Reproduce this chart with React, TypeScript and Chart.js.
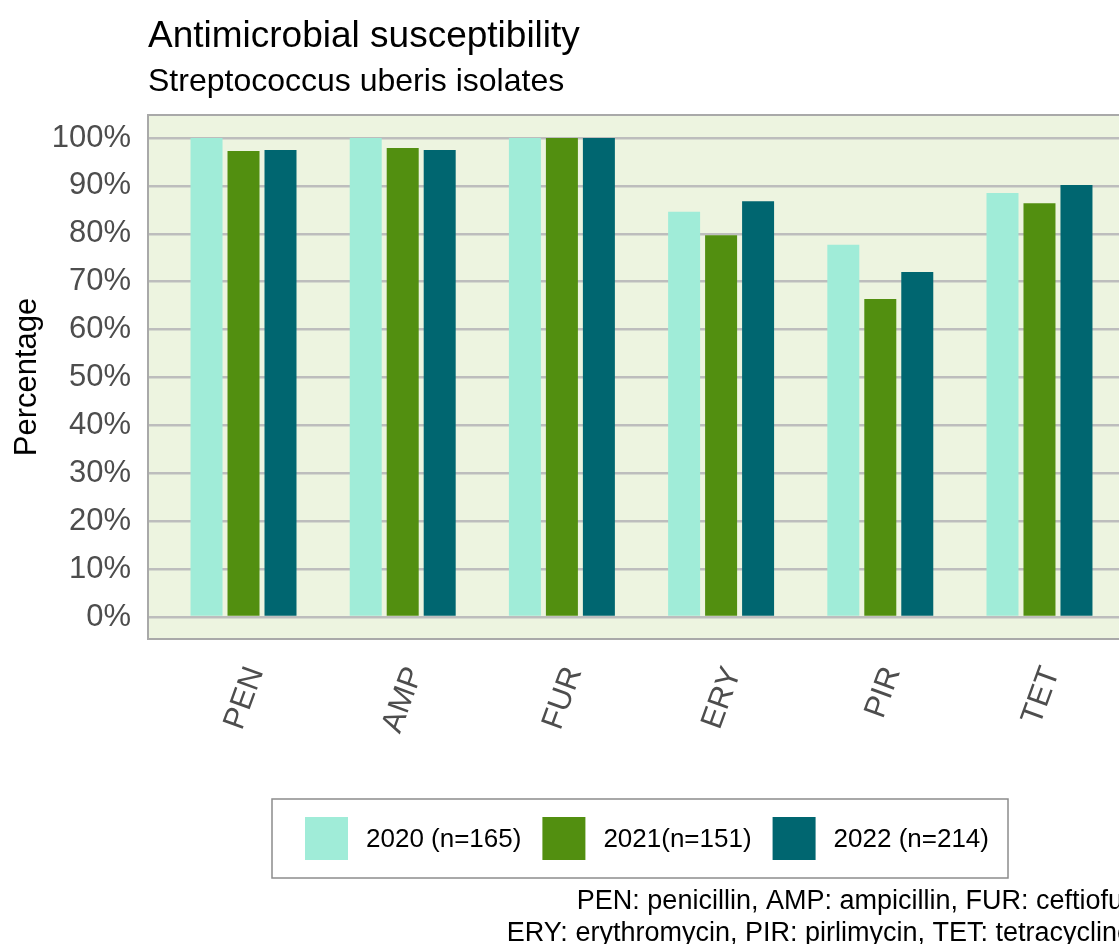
import React, { useEffect, useRef } from 'react';
import { Chart, registerables } from 'chart.js';

Chart.register(...registerables);

const categories = ['PEN', 'AMP', 'FUR', 'ERY', 'PIR', 'TET'];
const seriesLabels = ['2020 (n=165)', '2021(n=151)', '2022 (n=214)'];
const values2020 = [100, 100, 100, 84.6, 77.7, 88.5];
const values2021 = [97.3, 97.9, 100, 79.7, 66.4, 86.4];
const values2022 = [97.5, 97.5, 100, 86.8, 72.0, 90.2];
const seriesColors = ['#a0ecd8', '#528f10', '#006670'];
const yTickValues = [0, 10, 20, 30, 40, 50, 60, 70, 80, 90, 100];
const titleText = 'Antimicrobial susceptibility';
const subtitleText = 'Streptococcus uberis isolates';
const yAxisTitle = 'Percentage';
const captionLines = [
  'PEN: penicillin, AMP: ampicillin, FUR: ceftiofur',
  'ERY: erythromycin, PIR: pirlimycin, TET: tetracycline',
];

const FONT = "'Liberation Sans', Arial, Helvetica, sans-serif";
const CANVAS_W = 1150;
const CANVAS_H = 944;

const decorPlugin = {
  id: 'decor',
  beforeDraw(chart: any) {
    const { ctx, chartArea: a } = chart;
    ctx.save();
    ctx.fillStyle = '#ffffff';
    ctx.fillRect(0, 0, chart.width, chart.height);
    ctx.fillStyle = '#edf4e0';
    ctx.fillRect(a.left, a.top, a.right - a.left, a.bottom - a.top);
    ctx.restore();
  },
  afterDraw(chart: any) {
    const { ctx, chartArea: a } = chart;
    ctx.save();
    // panel border
    ctx.strokeStyle = '#a9a9a9';
    ctx.lineWidth = 2;
    ctx.strokeRect(a.left, a.top, a.right - a.left, a.bottom - a.top);

    // title & subtitle
    ctx.fillStyle = '#000000';
    ctx.textAlign = 'left';
    ctx.textBaseline = 'alphabetic';
    ctx.font = `37px ${FONT}`;
    ctx.fillText(titleText, a.left, 47);
    ctx.font = `32px ${FONT}`;
    ctx.fillText(subtitleText, a.left, 91);

    // legend
    const boxX = 272, boxY = 799, boxW = 736, boxH = 79;
    ctx.strokeStyle = '#8c8c8c';
    ctx.lineWidth = 1.5;
    ctx.strokeRect(boxX, boxY, boxW, boxH);
    ctx.font = `26px ${FONT}`;
    ctx.textBaseline = 'middle';
    let x = 305;
    const sw = 43;
    const cy = 838.5;
    seriesLabels.forEach((lab, i) => {
      ctx.fillStyle = seriesColors[i];
      ctx.fillRect(x, cy - sw / 2, sw, sw);
      ctx.fillStyle = '#000000';
      ctx.fillText(lab, x + 61, cy + 1);
      x = x + 61 + ctx.measureText(lab).width + 21;
    });

    // caption
    ctx.font = `27px ${FONT}`;
    ctx.textAlign = 'right';
    ctx.textBaseline = 'alphabetic';
    ctx.fillText(captionLines[0], 1132, 909);
    ctx.fillText(captionLines[1], 1132, 941);
    ctx.restore();
  },
};

export default function App() {
  const canvasRef = useRef<HTMLCanvasElement | null>(null);

  useEffect(() => {
    const canvas = canvasRef.current;
    if (!canvas) return;
    const mk = (vals: number[]) => vals.map((v, i) => ({ x: i + 1, y: v }));
    const chart = new Chart(canvas, {
      type: 'bar',
      data: {
        datasets: [
          { label: seriesLabels[0], data: mk(values2020), backgroundColor: seriesColors[0] },
          { label: seriesLabels[1], data: mk(values2021), backgroundColor: seriesColors[1] },
          { label: seriesLabels[2], data: mk(values2022), backgroundColor: seriesColors[2] },
        ] as any,
      },
      options: {
        responsive: false,
        animation: false,
        devicePixelRatio: 1,
        datasets: {
          bar: { categoryPercentage: 0.697, barPercentage: 0.865 },
        } as any,
        layout: { padding: { top: 115, right: CANVAS_W - 1135, left: 0, bottom: 0 } },
        plugins: {
          legend: { display: false },
          title: { display: false },
          tooltip: { enabled: false },
        },
        scales: {
          x: {
            type: 'linear',
            offset: false,
            min: 0.4,
            max: 6.6,
            grid: { display: false },
            border: { display: false },
            afterBuildTicks: (scale: any) => {
              scale.ticks = categories.map((_, i) => ({ value: i + 1 }));
            },
            afterFit: (scale: any) => {
              scale.height = CANVAS_H - 639;
            },
            ticks: {
              autoSkip: false,
              minRotation: 70,
              maxRotation: 70,
              padding: 15,
              labelOffset: 12,
              color: '#4d4d4d',
              font: { family: FONT, size: 31 },
              callback: (v: any) => categories[Math.round(Number(v)) - 1] ?? '',
            },
          },
          y: {
            type: 'linear',
            min: -4.6,
            max: 104.8,
            afterBuildTicks: (scale: any) => {
              scale.ticks = yTickValues.map((v) => ({ value: v }));
            },
            afterFit: (scale: any) => {
              scale.width = 148;
            },
            grid: { color: '#bdbdbd', lineWidth: 2.5, drawTicks: false },
            border: { display: false },
            title: {
              display: true,
              text: yAxisTitle,
              color: '#000000',
              font: { family: FONT, size: 31 },
              padding: { top: 9, bottom: 0 },
            },
            ticks: {
              padding: 17,
              color: '#4d4d4d',
              font: { family: FONT, size: 31 },
              callback: (v: any) => `${v}%`,
            },
          },
        } as any,
      },
      plugins: [decorPlugin],
    });
    return () => chart.destroy();
  }, []);

  return (
    <div
      style={{
        position: 'absolute',
        left: 0,
        top: 0,
        width: 1119,
        height: 944,
        overflow: 'hidden',
        background: '#ffffff',
      }}
    >
      <canvas
        ref={canvasRef}
        width={CANVAS_W}
        height={CANVAS_H}
        style={{ display: 'block', width: CANVAS_W, height: CANVAS_H }}
      />
    </div>
  );
}
